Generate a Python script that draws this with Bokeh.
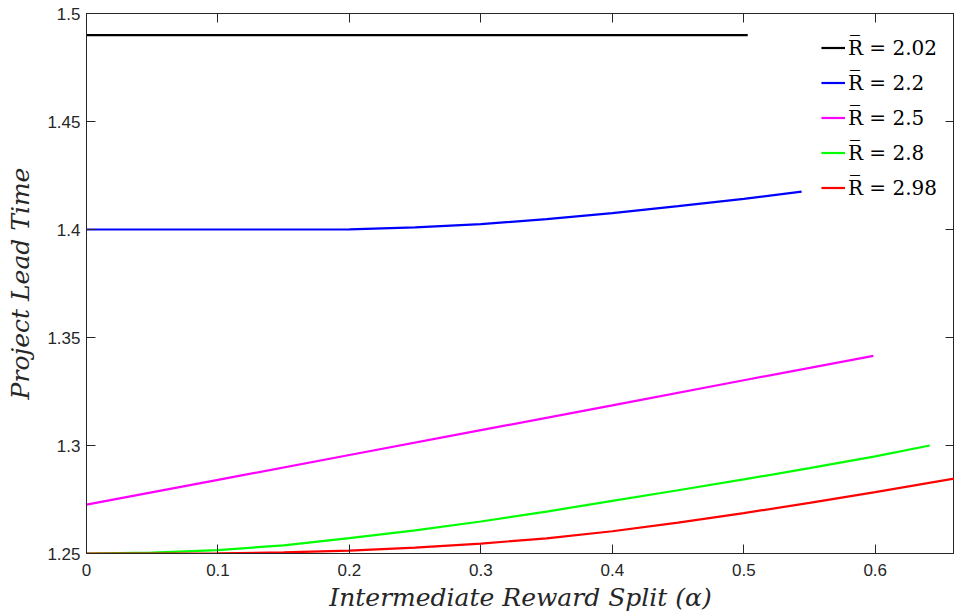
from bokeh.plotting import figure
from bokeh.models import Legend, LegendItem, LinearAxis, Range1d, FixedTicker
from bokeh.embed import file_html
from bokeh.resources import INLINE

# ---- data ----
alpha_k = [0.0, 0.503]
lead_k = [1.49, 1.49]

alpha_b = [0.0, 0.05, 0.1, 0.15, 0.19, 0.2, 0.25, 0.3, 0.35, 0.4, 0.45, 0.5, 0.544]
lead_b = [1.4, 1.4, 1.4, 1.4, 1.4, 1.4001, 1.4010, 1.4025, 1.4048, 1.4076, 1.4108, 1.4142, 1.4175]

alpha_m = [0.0, 0.1, 0.2, 0.3, 0.4, 0.5, 0.5986]
lead_m = [1.2726, 1.2841, 1.2956, 1.3071, 1.3186, 1.3302, 1.3415]

alpha_g = [0.0, 0.05, 0.1, 0.15, 0.2, 0.25, 0.3, 0.35, 0.4, 0.45, 0.5, 0.55, 0.6, 0.6415]
lead_g = [1.25, 1.2504, 1.2516, 1.2538, 1.2571, 1.2607, 1.2648, 1.2694, 1.2744, 1.2793, 1.2843, 1.2895, 1.2950, 1.3000]

alpha_r = [0.0, 0.05, 0.1, 0.15, 0.2, 0.25, 0.3, 0.35, 0.4, 0.45, 0.5, 0.55, 0.6, 0.66]
lead_r = [1.25, 1.25, 1.2501, 1.2505, 1.2513, 1.2527, 1.2546, 1.2570, 1.2603, 1.2643, 1.2687, 1.2734, 1.2784, 1.2847]

series_labels = ["R\u0305 = 2.02", "R\u0305 = 2.2", "R\u0305 = 2.5", "R\u0305 = 2.8", "R\u0305 = 2.98"]
series_colors = ["#000000", "#0000ff", "#ff00ff", "#00ff00", "#ff0000"]

x_ticks = [0, 0.1, 0.2, 0.3, 0.4, 0.5, 0.6]
y_ticks = [1.25, 1.3, 1.35, 1.4, 1.45, 1.5]

AX = "#262626"
SERIF = "DejaVu Serif"

p = figure(width=954, height=615, output_backend="svg", toolbar_location=None,
           x_range=Range1d(0, 0.6603), y_range=Range1d(1.25, 1.5),
           min_border_left=86, min_border_right=0, min_border_top=13, min_border_bottom=62)
p.grid.visible = False
p.outline_line_color = AX
p.background_fill_color = "white"
p.border_fill_color = "white"

renderers = []
for xs, ys, c in [(alpha_k, lead_k, series_colors[0]), (alpha_b, lead_b, series_colors[1]),
                  (alpha_m, lead_m, series_colors[2]), (alpha_g, lead_g, series_colors[3]),
                  (alpha_r, lead_r, series_colors[4])]:
    renderers.append(p.line(xs, ys, line_color=c, line_width=2.2))

def style_axis(ax, ticks, labels=True):
    ax.ticker = FixedTicker(ticks=ticks)
    ax.axis_line_color = AX
    ax.axis_line_width = 1
    ax.major_tick_line_color = AX
    ax.major_tick_in = 9
    ax.major_tick_out = 0
    ax.minor_tick_line_color = None
    ax.major_label_text_color = AX
    ax.major_label_text_font = "Liberation Sans"
    ax.major_label_text_font_size = "17px"
    if not labels:
        ax.major_label_text_font_size = "0px"
        ax.major_label_standoff = 0

style_axis(p.xaxis[0], x_ticks)
style_axis(p.yaxis[0], y_ticks)
p.xaxis[0].major_label_standoff = 10
p.yaxis[0].major_label_standoff = 6

p.xaxis.axis_label = "Intermediate Reward Split (\u03b1)"
p.yaxis.axis_label = "Project Lead Time"
for ax in (p.xaxis[0], p.yaxis[0]):
    ax.axis_label_text_font = SERIF
    ax.axis_label_text_font_style = "italic"
    ax.axis_label_text_font_size = "25px"
    ax.axis_label_text_color = AX
p.xaxis[0].axis_label_standoff = 4
p.yaxis[0].axis_label_standoff = 9

top = LinearAxis()
style_axis(top, x_ticks, labels=False)
p.add_layout(top, "above")
right = LinearAxis()
style_axis(right, y_ticks, labels=False)
p.add_layout(right, "right")

items = [LegendItem(label=lab, renderers=[r]) for lab, r in zip(series_labels, renderers)]
legend = Legend(items=items, location="top_right", margin=0, padding=17,
                label_height=35, glyph_height=35, glyph_width=24, spacing=0,
                label_standoff=3, label_text_font=SERIF,
                label_text_font_size="20px", label_text_color="#000000",
                border_line_alpha=0, background_fill_alpha=0)
p.add_layout(legend, "center")

open("out.html", "w").write(file_html(p, INLINE))
